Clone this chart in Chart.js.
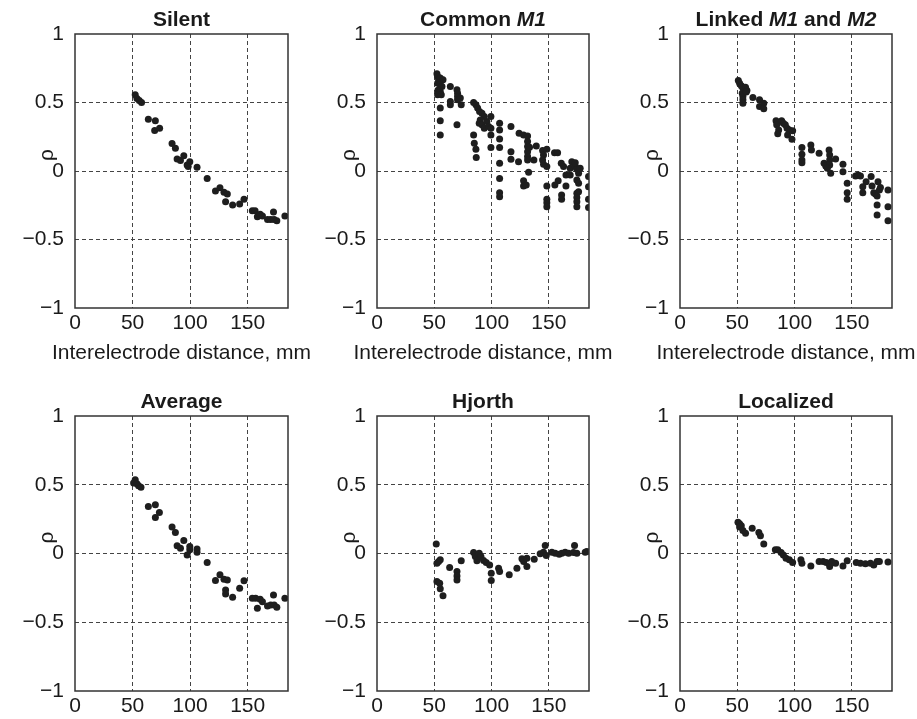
<!DOCTYPE html>
<html>
<head>
<meta charset="utf-8">
<script src="https://cdn.jsdelivr.net/npm/chart.js@4.4.0/dist/chart.umd.min.js"></script>
<style>
  body { margin: 0; background: #fff; width: 917px; height: 719px; overflow: hidden; position: relative; }
  canvas { position: absolute; left: 0; top: 0; }
</style>
</head>
<body>
<canvas id="c1" width="917" height="719"></canvas>
<canvas id="c2" width="917" height="719"></canvas>
<canvas id="c3" width="917" height="719"></canvas>
<canvas id="c4" width="917" height="719"></canvas>
<canvas id="c5" width="917" height="719"></canvas>
<canvas id="c6" width="917" height="719"></canvas>
<script>
// tick values shared by all six panels
const xTicks = [0, 50, 100, 150];
const yTicks = [-1, -0.5, 0, 0.5, 1];
const xLabel = 'Interelectrode distance, mm';
const yLabel = 'ρ';

// titles, split where italic text starts/stops
const titleSilent = [['Silent', false]];
const titleCommon = [['Common ', false], ['M1', true]];
const titleLinked = [['Linked ', false], ['M1', true], [' and ', false], ['M2', true]];
const titleAverage = [['Average', false]];
const titleHjorth = [['Hjorth', false]];
const titleLocalized = [['Localized', false]];

// [distance mm, rho]
const silentPts = [[52.3,0.556],[53.8,0.53],[55.8,0.515],[57.8,0.50],[63.7,0.378],[69.8,0.366],[69.2,0.295],[73.5,0.312],
  [84.3,0.2],[87.2,0.166],[88.7,0.088],[91.6,0.076],[94.5,0.112],[97.4,0.044],[99.7,0.068],[98.3,0.032],[106,0.027],
  [114.8,-0.054],[122,-0.146],[125.9,-0.122],[129.4,-0.156],[132.3,-0.168],[130.8,-0.224],[136.9,-0.249],[143,-0.241],
  [146.8,-0.207],[154,-0.29],[156.4,-0.29],[158.4,-0.334],[160.8,-0.315],[162.8,-0.329],[167.2,-0.354],[170,-0.354],
  [172.4,-0.3],[173,-0.354],[175.3,-0.363],[182.3,-0.329]];

const commonPts = [[52.3,0.71],[52.9,0.69],[53.8,0.666],[55.2,0.678],[57.6,0.666],[52.9,0.64],[55.2,0.63],[56.7,0.617],
  [53.2,0.59],[55.2,0.58],[52.9,0.556],[56.1,0.556],[55.2,0.46],[55.2,0.366],[55.2,0.263],
  [64,0.617],[64,0.507],[64,0.483],[69.8,0.593],[70.3,0.568],[70.3,0.544],[70.3,0.52],[72.7,0.532],[73.5,0.483],[69.8,0.337],
  [84.3,0.5],[86.3,0.483],[87.8,0.459],[89.5,0.434],[91.6,0.422],[93.6,0.398],[90.1,0.373],[89.2,0.349],[91.6,0.337],
  [93.6,0.312],[95.9,0.361],[97.4,0.324],[99.4,0.398],[99.4,0.312],[99.4,0.263],[84.3,0.263],[84.9,0.202],[86.3,0.159],
  [86.6,0.098],[99.4,0.171],
  [107,0.349],[107,0.3],[107,0.234],[107,0.171],[107,0.056],[107,-0.054],[107,-0.159],[107,-0.188],[116.9,0.324],
  [116.9,0.141],[116.9,0.085],[123.5,0.068],[124,0.276],[127.9,0.263],[131.4,0.256],[131.4,0.215],[131.4,0.178],
  [131.4,0.141],[131.4,0.105],[131.4,0.08],[132.3,-0.01],[127.9,-0.071],[127.9,-0.11],[130.2,-0.102],[133.1,0.173],
  [136.9,0.08],[139,0.183],
  [144.5,0.149],[145.3,0.117],[144.5,0.08],[145.3,0.049],[148.2,0.032],[148.2,0.159],[148.2,-0.11],[148.2,-0.207],
  [148.2,-0.232],[148.2,-0.261],[154.9,0.134],[157.6,0.134],[160.8,0.056],[162.8,0.032],[164.9,-0.029],[158.1,-0.071],
  [155.2,-0.102],[161.1,-0.176],[161.1,-0.207],[164.9,-0.11],[168.6,0.02],[170,0.068],[173,0.032],[174.4,0.012],
  [175.9,-0.017],[177.3,0.02],[174.4,-0.066],[175.9,-0.09],[174.4,-0.163],[175.9,-0.151],[174.4,-0.193],[174.4,-0.224],
  [174.4,-0.261],[184.6,-0.041],[184.6,-0.115],[184.6,-0.207],[184.6,-0.266],[173,0.061],[168.6,-0.029]];

const linkedPts = [[50.9,0.661],[52,0.641],[53.5,0.622],[54.9,0.605],[57.2,0.612],[58.4,0.588],[54.3,0.568],[54.9,0.544],
  [54.9,0.52],[54.9,0.495],[57.8,0.576],[63.6,0.537],[69.4,0.52],[69.4,0.471],[73.1,0.495],[73.1,0.454],
  [83.8,0.366],[84.4,0.337],[86.1,0.3],[85.3,0.271],[88.7,0.366],[90.2,0.349],[91.9,0.337],[93.4,0.312],[95.4,0.3],
  [93.9,0.263],[97.7,0.232],[98.3,0.293],[106.4,0.171],[106.4,0.122],[106.4,0.08],[106.4,0.061],[114.2,0.19],
  [114.7,0.154],[121.4,0.129],[125.7,0.056],[127.2,0.037],[130.1,0.154],[130.6,0.117],[130.6,0.08],[130.6,0.044],
  [128.6,0.02],[131.5,-0.017],[135.8,0.088],[142.2,0.049],[142.2,-0.005],[145.9,-0.09],[145.9,-0.159],[145.9,-0.207],
  [153.2,-0.037],[155.5,-0.029],[157.5,-0.037],[159.5,-0.115],[159.5,-0.159],[162.4,-0.078],[166.8,-0.041],
  [167.6,-0.11],[169.1,-0.159],[170.5,-0.168],[172,-0.183],[172,-0.249],[172,-0.322],[172.8,-0.078],[174,-0.139],
  [174.9,-0.12],[181.5,-0.139],[181.5,-0.261],[181.5,-0.363]];

const averagePts = [[52.3,0.536],[50.9,0.512],[53.8,0.507],[55.2,0.493],[57.3,0.481],[63.7,0.342],[69.8,0.354],
  [69.8,0.262],[73.3,0.299],[84.3,0.192],[87.2,0.153],[88.7,0.056],[91.6,0.039],[94.5,0.095],[97.4,-0.01],
  [99.7,0.051],[99.7,0.027],[106,0.032],[106,0.01],[114.8,-0.066],[122,-0.197],[125.9,-0.155],[129.4,-0.187],
  [132.3,-0.192],[130.8,-0.265],[130.8,-0.294],[136.9,-0.318],[143,-0.252],[146.8,-0.199],[154,-0.325],
  [156.9,-0.325],[158.4,-0.398],[160.8,-0.333],[162.8,-0.35],[167.2,-0.381],[170,-0.374],[172.4,-0.301],
  [173,-0.374],[175.3,-0.391],[182.3,-0.325]];

const hjorthPts = [[51.7,0.07],[52.3,-0.07],[53.8,-0.058],[55.2,-0.046],[52.3,-0.204],[54.7,-0.216],[55.2,-0.257],
  [57.6,-0.308],[63.4,-0.102],[69.8,-0.131],[69.8,-0.163],[69.8,-0.192],[73.5,-0.053],[84.3,0.007],[85.8,-0.022],
  [87.2,-0.053],[89.2,0.002],[90.7,-0.022],[93,-0.051],[95.3,-0.066],[98.3,-0.083],[99.7,-0.143],[99.7,-0.197],
  [106.1,-0.107],[107,-0.131],[115.4,-0.155],[122.1,-0.107],[126.5,-0.039],[128,-0.058],[130.8,-0.095],
  [130.8,-0.034],[137.2,-0.041],[142.4,-0.002],[145.3,0.01],[146.8,0.058],[147.7,-0.015],[152.6,0.01],[155.5,0.002],
  [159,-0.005],[161.3,0.002],[164.2,0.01],[167.2,0.002],[172.4,0.058],[171.5,0.007],[174.4,0.002],[181.7,0.01],
  [183.1,0.015]];

const localizedPts = [[50.6,0.228],[52,0.216],[53.5,0.201],[52,0.192],[54.9,0.167],[57.2,0.148],[63,0.184],
  [68.8,0.153],[70.2,0.129],[73.1,0.07],[83.2,0.027],[85.3,0.027],[88.2,0.007],[90.2,-0.01],[92.5,-0.034],
  [95.4,-0.046],[98.3,-0.066],[105.5,-0.046],[106.4,-0.07],[114.2,-0.09],[121.4,-0.058],[124.9,-0.058],
  [127.7,-0.066],[130.6,-0.095],[132.4,-0.058],[135.8,-0.07],[142.2,-0.09],[145.9,-0.053],[153.8,-0.066],
  [157.5,-0.07],[161.8,-0.075],[166.2,-0.07],[169.1,-0.083],[172,-0.058],[174,-0.058],[181.5,-0.061]];

const FONT = '"Liberation Sans", Arial, Helvetica, sans-serif';
const TEXT = '#1a1a1a';

// title above the plot box (italic pieces), axis labels, full frame
const panelText = {
  id: 'panelText',
  afterDraw(chart, args, opts) {
    const ctx = chart.ctx;
    const a = chart.chartArea;
    const cx = (a.left + a.right) / 2;
    ctx.save();
    ctx.fillStyle = TEXT;
    ctx.textAlign = 'left';
    ctx.textBaseline = 'alphabetic';
    const fontOf = it => (it ? 'italic bold ' : 'bold ') + '21px ' + FONT;
    let total = 0;
    opts.parts.forEach(p => { ctx.font = fontOf(p[1]); total += ctx.measureText(p[0]).width; });
    let x = cx - total / 2;
    opts.parts.forEach(p => {
      ctx.font = fontOf(p[1]);
      ctx.fillText(p[0], x, a.top - 8);
      x += ctx.measureText(p[0]).width;
    });

    ctx.font = '21px ' + FONT;
    ctx.textAlign = 'center';
    if (opts.xTitle) ctx.fillText(xLabel, cx, a.bottom + 51);

    ctx.translate(a.left - 28, (a.top + a.bottom) / 2 - 16);
    ctx.rotate(-Math.PI / 2);
    ctx.textBaseline = 'middle';
    ctx.fillText(yLabel, 0, 0);
    ctx.restore();
  },
  afterDatasetsDraw(chart) {
    const ctx = chart.ctx;
    const a = chart.chartArea;
    ctx.save();
    ctx.strokeStyle = '#333';
    ctx.lineWidth = 1.5;
    ctx.strokeRect(a.left, a.top, a.right - a.left, a.bottom - a.top);
    ctx.restore();
  }
};

// plot boxes: left, right, top, bottom on the page
const panels = [
  { id: 'c1', pts: silentPts, title: titleSilent, box: [75, 288, 34, 308], xt: true },
  { id: 'c2', pts: commonPts, title: titleCommon, box: [377, 589, 34, 308], xt: true },
  { id: 'c3', pts: linkedPts, title: titleLinked, box: [680, 892, 34, 308], xt: true },
  { id: 'c4', pts: averagePts, title: titleAverage, box: [75, 288, 416, 691], xt: false },
  { id: 'c5', pts: hjorthPts, title: titleHjorth, box: [377, 589, 416, 691], xt: false },
  { id: 'c6', pts: localizedPts, title: titleLocalized, box: [680, 892, 416, 691], xt: false }
];

const YW = 75, XH = 28;

const gridColor = (lo, hi) => (c) => {
  const v = c.tick ? c.tick.value : null;
  return (v === lo || v === hi) ? 'rgba(0,0,0,0)' : '#444';
};

panels.forEach(p => {
  const [l, r, t, b] = p.box;
  new Chart(document.getElementById(p.id), {
    type: 'scatter',
    data: {
      datasets: [{
        data: p.pts.map(d => ({ x: d[0], y: d[1] })),
        backgroundColor: '#1e1e1e',
        borderWidth: 0,
        pointRadius: 3.5
      }]
    },
    options: {
      responsive: false,
      animation: false,
      events: [],
      layout: { padding: { top: t, right: 917 - r, left: l - YW, bottom: 719 - b - XH } },
      plugins: {
        legend: { display: false },
        tooltip: { enabled: false },
        panelText: { parts: p.title, xTitle: p.xt }
      },
      scales: {
        x: {
          type: 'linear',
          min: 0,
          max: 185,
          afterBuildTicks: s => { s.ticks = xTicks.map(v => ({ value: v })); },
          afterFit: s => { s.height = XH; },
          ticks: { padding: 3, color: TEXT, font: { family: FONT, size: 21 }, maxRotation: 0, autoSkip: false },
          grid: { drawTicks: false, color: gridColor(0, 185), lineWidth: 1 },
          border: { display: false, dash: [4, 3] }
        },
        y: {
          type: 'linear',
          min: -1,
          max: 1,
          afterBuildTicks: s => { s.ticks = yTicks.map(v => ({ value: v })); },
          afterFit: s => { s.width = YW; },
          ticks: {
            padding: 11, color: TEXT, font: { family: FONT, size: 21 },
            callback: v => String(v).replace('-', '\u2212')
          },
          grid: { drawTicks: false, color: gridColor(-1, 1), lineWidth: 1 },
          border: { display: false, dash: [4, 3] }
        }
      }
    },
    plugins: [panelText]
  });
});
</script>
</body>
</html>
